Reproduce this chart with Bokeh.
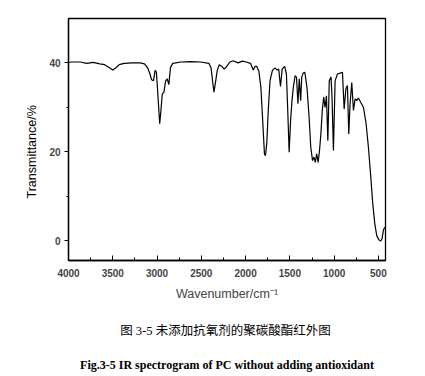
from bokeh.plotting import figure
from bokeh.models import Range1d, FixedTicker, Title
from bokeh.embed import file_html
from bokeh.resources import INLINE

wavenumber = [4000, 3941, 3868, 3794, 3721, 3647, 3592, 3537, 3500, 3464, 3427, 3372, 3281, 3190,
              3142, 3106, 3080, 3062, 3040, 3022, 3007, 2989, 2970, 2956, 2941, 2922, 2904, 2885,
              2867, 2848, 2822, 2730, 2618, 2507, 2415, 2390, 2371, 2357, 2338, 2320, 2298, 2268,
              2243, 2213, 2177, 2140, 2085, 2037, 1992, 1945, 1913, 1894, 1874, 1850, 1827, 1807,
              1787, 1776, 1760, 1744, 1724, 1697, 1669, 1646, 1626, 1606, 1587, 1559, 1539, 1524,
              1508, 1492, 1476, 1461, 1441, 1425, 1409, 1394, 1378, 1366, 1350, 1331, 1307, 1283,
              1264, 1244, 1228, 1213, 1197, 1181, 1165, 1150, 1134, 1118, 1102, 1087, 1071, 1055,
              1035, 1024, 1008, 989, 962, 932, 906, 887, 868, 850, 835, 820, 801, 782, 763, 745,
              726, 699, 669, 639, 613, 586, 564, 541, 519, 496, 474, 459, 444, 429]
transmittance = [40.15, 40.2, 40.2, 39.9, 40.1, 39.8, 39.6, 38.9, 38.4, 38.9, 39.6, 39.9, 40.0, 40.0,
                 39.8, 38.9, 37.5, 36.2, 36.0, 38.3, 37.9, 32.3, 26.3, 29.3, 33.0, 33.4, 35.9, 36.4,
                 35.1, 39.0, 39.9, 40.2, 40.3, 40.2, 39.9, 38.9, 35.6, 33.4, 35.9, 38.3, 39.6, 39.2,
                 38.6, 39.2, 40.2, 40.5, 40.0, 40.4, 40.2, 39.9, 38.4, 39.2, 39.2, 38.1, 34.5, 27.0,
                 19.5, 19.1, 22.1, 29.3, 36.0, 38.3, 38.9, 38.4, 38.6, 34.7, 38.6, 39.2, 37.5, 29.3,
                 19.9, 27.0, 31.5, 34.5, 37.1, 36.8, 30.8, 36.4, 31.5, 36.8, 37.7, 37.9, 34.5, 27.8,
                 21.0, 18.0, 18.8, 17.6, 19.5, 17.6, 20.3, 24.0, 29.3, 32.3, 30.0, 32.6, 22.5, 36.0,
                 36.8, 32.3, 20.3, 36.0, 37.5, 37.7, 37.9, 29.6, 34.1, 34.9, 24.0, 30.8, 35.6, 29.3,
                 31.9, 31.5, 32.1, 31.1, 30.0, 26.3, 21.0, 14.3, 8.3, 3.8, 1.1, 0.2, -0.1, 0.4, 2.3, 3.0]

x_ticks = [4000, 3500, 3000, 2500, 2000, 1500, 1000, 500]
y_ticks = [0, 20, 40]
x_label = "Wavenumber/cm\u207b\u00b9"
y_label = "Transmittance/%"
caption_cn = "图 3-5  未添加抗氧剂的聚碳酸酯红外图"
caption_en = "Fig.3-5 IR spectrogram of PC without adding antioxidant"

p = figure(width=425, height=376, output_backend="svg", toolbar_location=None,
           x_range=Range1d(4000, 420), y_range=Range1d(-4.5, 50),
           min_border_left=68, min_border_right=40, min_border_top=18, min_border_bottom=116)
p.background_fill_color = "white"
p.border_fill_color = "white"
p.outline_line_color = "black"
p.outline_line_width = 1.3
p.grid.visible = False

p.line(wavenumber, transmittance, line_color="black", line_width=1.2)

ax = p.xaxis[0]
ax.ticker = FixedTicker(ticks=x_ticks, minor_ticks=list(range(4000, 400, -250)))
ax.major_tick_in = 5
ax.major_tick_out = 0
ax.minor_tick_in = 3
ax.minor_tick_out = 0
ax.axis_line_width = 1.3
ax.major_label_text_font = "Liberation Sans"
ax.major_label_text_font_style = "bold"
ax.major_label_text_font_size = "10px"
ax.major_label_standoff = 8
ax.axis_label = x_label
ax.axis_label_text_font = "Liberation Sans"
ax.axis_label_text_font_style = "normal"
ax.axis_label_text_font_size = "12.5px"
ax.axis_label_standoff = 7

ay = p.yaxis[0]
ay.ticker = FixedTicker(ticks=y_ticks, minor_ticks=[10, 30])
ay.major_tick_in = 0
ay.major_tick_out = 4
ay.minor_tick_in = 0
ay.minor_tick_out = 2
ay.axis_line_width = 1.3
ay.major_label_text_font = "Liberation Sans"
ay.major_label_text_font_style = "bold"
ay.major_label_text_font_size = "10px"
ay.major_label_standoff = 4
ay.axis_label = None

p.add_layout(Title(text=y_label, align="left", offset=62, standoff=15,
                   text_font="Liberation Sans", text_font_style="normal",
                   text_font_size="12.5px", text_color="black"), "left")

p.add_layout(Title(text=caption_cn, align="center", offset=3, standoff=36,
                   text_font="'Liberation Serif', 'Noto Sans CJK SC'", text_font_style="normal",
                   text_font_size="12.5px", text_color="black"), "below")
p.add_layout(Title(text=caption_en, align="center", vertical_align="top", offset=2, standoff=4,
                   text_font="Liberation Serif", text_font_style="bold",
                   text_font_size="12px", text_color="black"), "below")

open("out.html", "w").write(file_html(p, INLINE))
